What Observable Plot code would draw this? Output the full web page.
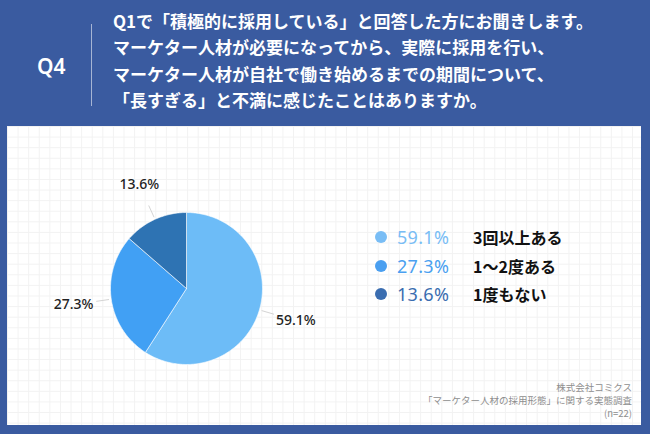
<!DOCTYPE html>
<html><head><meta charset="utf-8">
<script src="https://cdn.jsdelivr.net/npm/d3@7"></script>
<script src="https://cdn.jsdelivr.net/npm/@observablehq/plot@0.6"></script>
<style>
body{margin:0;}
#wrap{position:relative;width:650px;height:434px;background:#3a5ba0;overflow:hidden;font-family:"Noto Sans CJK JP","Noto Sans",sans-serif;}
#q{position:absolute;left:37px;top:52px;color:#fff;font-size:21px;font-weight:600;font-family:"Noto Sans","Noto Sans CJK JP",sans-serif;}
#divider{position:absolute;left:91px;top:24px;width:1px;height:82px;background:rgba(255,255,255,0.55);}
#title{position:absolute;left:113px;top:8px;color:#fff;font-size:17px;font-weight:700;line-height:26.3px;white-space:nowrap;}
#panel{position:absolute;left:7px;top:126px;width:634px;height:299px;background-color:#fff;
background-image:linear-gradient(#f2f2f2 1px,transparent 1px),linear-gradient(90deg,#f2f2f2 1px,transparent 1px);background-size:10.6px 10.6px;}
#chart{position:absolute;left:0;top:0;}
#legend{position:absolute;left:368px;top:99px;}
.row{position:relative;height:28.5px;width:260px;}
.dot{position:absolute;left:0;top:6px;width:12px;height:12px;border-radius:50%;}
.pct{position:absolute;left:22px;top:0;font-size:18px;font-family:"Noto Sans","Noto Sans CJK JP",sans-serif;line-height:24px;letter-spacing:0.3px;}
.lab{position:absolute;left:98px;top:0;font-size:16px;font-weight:700;color:#111;line-height:24px;}
#foot{position:absolute;right:9px;top:255px;text-align:right;font-size:9.5px;line-height:13px;color:#8e8e8e;}
</style></head>
<body>
<div id="wrap">
  <div id="q">Q4</div>
  <div id="divider"></div>
  <div id="title"></div>
  <div id="panel">
    <div id="chart"></div>
    <div id="legend"></div>
    <div id="foot"></div>
  </div>
</div>
<script>
const titleLines = [
  "Q1で「積極的に採用している」と回答した方にお聞きします。",
  "マーケター人材が必要になってから、実際に採用を行い、",
  "マーケター人材が自社で働き始めるまでの期間について、",
  "「長すぎる」と不満に感じたことはありますか。"
];
const categories = ["3回以上ある", "1〜2度ある", "1度もない"];
const values = [59.1, 27.3, 13.6];
const sliceColors = ["#6dbcf7", "#41a0f4", "#2e73b3"];
const legendColors = ["#79bdf5", "#4a9ff0", "#3a6db0"];
const footLines = ["株式会社コミクス", "「マーケター人材の採用形態」に関する実態調査", "(n=22)"];

document.getElementById("title").innerHTML = titleLines.map(t => `<div>${t}</div>`).join("");
document.getElementById("foot").innerHTML = footLines.map(t => `<div>${t}</div>`).join("");
document.getElementById("legend").innerHTML = categories.map((c, i) =>
  `<div class="row"><span class="dot" style="background:${legendColors[i]}"></span>` +
  `<span class="pct" style="color:${legendColors[i]}">${values[i].toFixed(1)}%</span>` +
  `<span class="lab">${c}</span></div>`).join("");

// pie geometry from data (angles clockwise from 12 o'clock)
const arcs = d3.pie().sort(null).value(d => d.value)(categories.map((c, i) => ({cat: c, value: values[i]})));
const polys = [];
arcs.forEach(a => {
  polys.push({cat: a.data.cat, x: 0, y: 0});
  const n = Math.max(2, Math.ceil((a.endAngle - a.startAngle) / (Math.PI / 180)));
  for (let k = 0; k <= n; k++) {
    const t = a.startAngle + (a.endAngle - a.startAngle) * k / n;
    polys.push({cat: a.data.cat, x: Math.sin(t), y: Math.cos(t)});
  }
  polys.push({cat: a.data.cat, x: 0, y: 0});
});
const mid = a => (a.startAngle + a.endAngle) / 2;
const labels = arcs.map(a => ({
  text: a.data.value.toFixed(1) + "%",
  x: 1.5 * Math.sin(mid(a)), y: 1.5 * Math.cos(mid(a))
}));
const leaders = arcs.map(a => ({
  x1: 1.03 * Math.sin(mid(a)), y1: 1.03 * Math.cos(mid(a)),
  x2: 1.2 * Math.sin(mid(a)), y2: 1.2 * Math.cos(mid(a))
}));

const R = 76, cx = 179, cy = 162;
const chart = Plot.plot({
  width: 634, height: 299,
  margin: 0,
  style: {background: "transparent", overflow: "visible"},
  x: {domain: [-1, 1], range: [cx - R, cx + R], axis: null},
  y: {domain: [-1, 1], range: [cy + R, cy - R], axis: null},
  color: {domain: categories, range: sliceColors},
  marks: [
    Plot.link(leaders, {x1: "x1", y1: "y1", x2: "x2", y2: "y2", stroke: "#d4d4d4", strokeWidth: 1}),
    Plot.line(polys, {x: "x", y: "y", z: "cat", fill: "cat", stroke: "#ffffff", strokeWidth: 0.6, curve: "linear"}),
    Plot.text(labels, {x: "x", y: "y", text: "text", fontSize: 14, fill: "#222", fontWeight: 500,
      fontFamily: "'Noto Sans', 'Noto Sans CJK JP', sans-serif"})
  ]
});
document.getElementById("chart").appendChild(chart);
</script>
</body></html>
